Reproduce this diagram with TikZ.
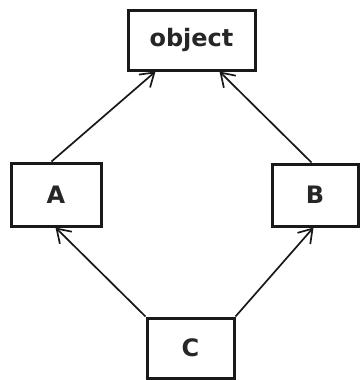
\documentclass[tikz,border=0pt]{standalone}
\usepackage{fontspec}
\setmainfont{DejaVu Sans}
\usetikzlibrary{arrows.meta}
\begin{document}
\begin{tikzpicture}[x=1pt,y=-1pt,
  cls/.style={draw=black!90, line width=3pt, fill=white, inner sep=0pt,
    font=\fontsize{24}{28}\selectfont\bfseries, text=black!85},
  inherit/.style={draw=black!90, line width=1.7pt,
    -{Straight Barb[length=13pt,width=17pt,line width=1.7pt]}}]
  \useasboundingbox (0,0) rectangle (359,380);
  \fill[white] (0,0) rectangle (359,380);
  % class boxes
  \node[cls, minimum width=127pt, minimum height=60pt] (obj) at (191.5,40) {object};
  \node[cls, minimum width=90pt, minimum height=63pt] (a) at (56,194.5) {A};
  \node[cls, minimum width=86pt, minimum height=62pt] (b) at (315,195) {B};
  \node[cls, minimum width=87pt, minimum height=60pt] (c) at (190.5,348) {C};
  % inheritance arrows
  \draw[inherit] (a.north west) ++(42,0) coordinate (a1) (a1) -- ([xshift=29pt]obj.south west);
  \draw[inherit] (b.north west) ++(41,0) coordinate (b1) (b1) -- ([xshift=-37pt]obj.south east);
  \draw[inherit] (c.north west) -- ([xshift=46pt]a.south west);
  \draw[inherit] (c.north east) -- ([xshift=43pt]b.south west);
\end{tikzpicture}
\end{document}
